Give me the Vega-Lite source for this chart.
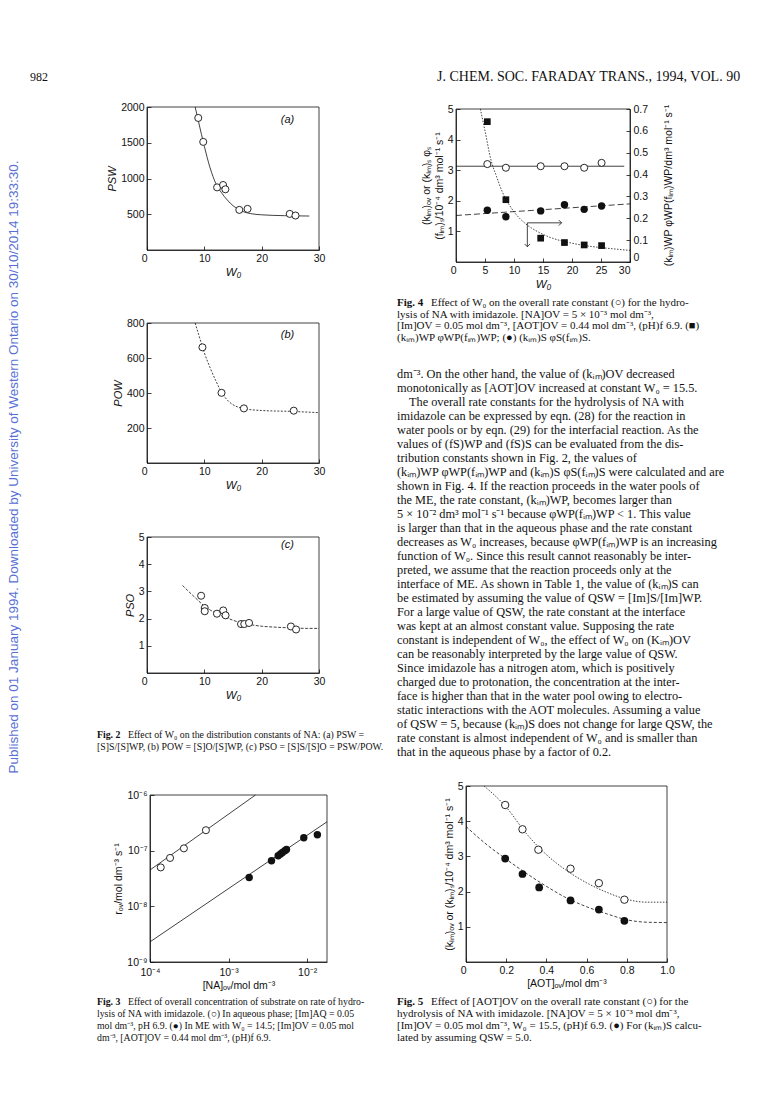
{
"$schema":"https://vega.github.io/schema/vega-lite/v6.json",
"width":772,"height":1107,"autosize":{"type":"none"},"padding":0,"background":"white",
"config":{
 "view":{"stroke":null},
 "axis":{"grid":false,"labelFlush":false,"labelOverlap":false,"labelFont":"Liberation Sans","labelFontSize":10.5,"labelColor":"#111","titleFont":"Liberation Sans","titleFontSize":10.5,"titleFontWeight":"normal","titleColor":"#111","domainColor":"#111","domainWidth":0.8,"tickColor":"#111","tickWidth":0.8,"tickSize":-4,"labelPadding":7,"titlePadding":3},
 "text":{"color":"#111"}
},
"resolve":{"scale":{"x":"independent","y":"independent"},"axis":{"x":"independent","y":"independent"}},
"layer":[
 {"data":{"values":[{"t":"Published on 01 January 1994. Downloaded by University of Western Ontario on 30/10/2014 19:33:30."}]},
  "mark":{"type":"text","angle":270,"align":"center","baseline":"middle","font":"Liberation Sans","fontSize":13.5,"color":"#5870d4"},
  "encoding":{"x":{"datum":0,"type":"quantitative","scale":{"domain":[0,1],"range":[14,24]},"axis":null},
   "y":{"datum":0,"type":"quantitative","scale":{"domain":[0,1],"range":[467,477]},"axis":null},
   "text":{"field":"t"}}},
 {"data":{"values":[{"t":"982"}]},
  "mark":{"type":"text","align":"left","baseline":"middle","font":"Liberation Serif","fontSize":12},
  "encoding":{"x":{"datum":0,"type":"quantitative","scale":{"domain":[0,1],"range":[30,60]},"axis":null},
   "y":{"datum":0,"type":"quantitative","scale":{"domain":[0,1],"range":[77,87]},"axis":null},
   "text":{"field":"t"}}},
 {"data":{"values":[{"t":"J. CHEM. SOC. FARADAY TRANS., 1994, VOL. 90"}]},
  "mark":{"type":"text","align":"left","baseline":"middle","font":"Liberation Serif","fontSize":14},
  "encoding":{"x":{"datum":0,"type":"quantitative","scale":{"domain":[0,1],"range":[437,742]},"axis":null},
   "y":{"datum":0,"type":"quantitative","scale":{"domain":[0,1],"range":[77,87]},"axis":null},
   "text":{"field":"t"}}},

 {"layer":[
  {"data":{"values":[{}]},"mark":{"type":"rect","filled":false,"color":"#111","strokeWidth":0.8},
   "encoding":{
    "x":{"datum":0,"type":"quantitative","scale":{"domain":[0,30],"range":[147,319],"nice":false,"zero":false},
      "axis":{"orient":"bottom","offset":-857,"values":[0,10,20,30],"format":"d","title":"W₀","titleFontStyle":"italic","titleFontSize":11.5,"labelAlign":{"condition":{"test":"datum.value === 0","value":"right"},"value":"center"}}},
    "x2":{"datum":30},
    "y":{"datum":0,"type":"quantitative","scale":{"domain":[0,2000],"range":[250,107],"nice":false,"zero":false},
      "axis":{"orient":"left","offset":-147,"values":[500,1000,1500,2000],"format":"d","title":"PSW","titleFontStyle":"italic","titleFontSize":11}},
    "y2":{"datum":2000}}},
  {"data":{"values":[{"w":8.4,"p":2000},{"w":9,"p":1790},{"w":10,"p":1450},{"w":11,"p":1150},{"w":12,"p":930},{"w":13,"p":800},{"w":14,"p":700},{"w":15,"p":620},{"w":16,"p":565},{"w":17,"p":530},{"w":18,"p":510},{"w":20,"p":492},{"w":24,"p":480},{"w":28.3,"p":475}]},
   "mark":{"type":"line","color":"#111","strokeWidth":0.8,"interpolate":"monotone"},
   "encoding":{"x":{"field":"w","type":"quantitative","scale":{"domain":[0,30],"range":[147,319],"nice":false,"zero":false}},
    "y":{"field":"p","type":"quantitative","scale":{"domain":[0,2000],"range":[250,107],"nice":false,"zero":false}}}},
  {"data":{"values":[{"w":8.94,"p":1847},{"w":9.81,"p":1512},{"w":12.23,"p":876},{"w":13.27,"p":909},{"w":13.67,"p":849},{"w":16.1,"p":561},{"w":17.54,"p":575},{"w":24.9,"p":505},{"w":25.9,"p":482}]},
   "mark":{"type":"point","shape":"circle","filled":true,"color":"white","stroke":"#111","strokeWidth":0.9,"size":50,"opacity":1},
   "encoding":{"x":{"field":"w","type":"quantitative","scale":{"domain":[0,30],"range":[147,319],"nice":false,"zero":false}},
    "y":{"field":"p","type":"quantitative","scale":{"domain":[0,2000],"range":[250,107],"nice":false,"zero":false}}}},
  {"data":{"values":[{}]},"mark":{"type":"text","text":"(a)","font":"Liberation Sans","fontSize":11,"fontStyle":"italic","align":"center","baseline":"middle"},
   "encoding":{"x":{"datum":24.5,"type":"quantitative","scale":{"domain":[0,30],"range":[147,319],"nice":false,"zero":false}},
    "y":{"datum":1818,"type":"quantitative","scale":{"domain":[0,2000],"range":[250,107],"nice":false,"zero":false}}}}
 ]},

 {"layer":[
  {"data":{"values":[{}]},"mark":{"type":"rect","filled":false,"color":"#111","strokeWidth":0.8},
   "encoding":{
    "x":{"datum":0,"type":"quantitative","scale":{"domain":[0,30],"range":[147,319],"nice":false,"zero":false},
      "axis":{"orient":"bottom","offset":-644,"values":[0,10,20,30],"format":"d","title":"W₀","titleFontStyle":"italic","titleFontSize":11.5,"labelAlign":{"condition":{"test":"datum.value === 0","value":"right"},"value":"center"}}},
    "x2":{"datum":30},
    "y":{"datum":0,"type":"quantitative","scale":{"domain":[0,800],"range":[463,323],"nice":false,"zero":false},
      "axis":{"orient":"left","offset":-147,"values":[200,400,600,800],"format":"d","title":"POW","titleFontStyle":"italic","titleFontSize":11}},
    "y2":{"datum":800}}},
  {"data":{"values":[{"w":8.4,"p":800},{"w":9,"p":735},{"w":10,"p":630},{"w":11,"p":545},{"w":12,"p":470},{"w":13,"p":405},{"w":14,"p":360},{"w":15,"p":333},{"w":16,"p":318},{"w":17,"p":310},{"w":20,"p":300},{"w":25,"p":295},{"w":29.8,"p":288}]},
   "mark":{"type":"line","color":"#111","strokeWidth":0.8,"strokeDash":[2,1.5],"interpolate":"monotone"},
   "encoding":{"x":{"field":"w","type":"quantitative","scale":{"domain":[0,30],"range":[147,319],"nice":false,"zero":false}},
    "y":{"field":"p","type":"quantitative","scale":{"domain":[0,800],"range":[463,323],"nice":false,"zero":false}}}},
  {"data":{"values":[{"w":9.67,"p":661},{"w":13.0,"p":401},{"w":16.9,"p":312},{"w":25.6,"p":299}]},
   "mark":{"type":"point","shape":"circle","filled":true,"color":"white","stroke":"#111","strokeWidth":0.9,"size":50,"opacity":1},
   "encoding":{"x":{"field":"w","type":"quantitative","scale":{"domain":[0,30],"range":[147,319],"nice":false,"zero":false}},
    "y":{"field":"p","type":"quantitative","scale":{"domain":[0,800],"range":[463,323],"nice":false,"zero":false}}}},
  {"data":{"values":[{}]},"mark":{"type":"text","text":"(b)","font":"Liberation Sans","fontSize":11,"fontStyle":"italic","align":"center","baseline":"middle"},
   "encoding":{"x":{"datum":24.5,"type":"quantitative","scale":{"domain":[0,30],"range":[147,319],"nice":false,"zero":false}},
    "y":{"datum":731,"type":"quantitative","scale":{"domain":[0,800],"range":[463,323],"nice":false,"zero":false}}}}
 ]},

 {"layer":[
  {"data":{"values":[{}]},"mark":{"type":"rect","filled":false,"color":"#111","strokeWidth":0.8},
   "encoding":{
    "x":{"datum":0,"type":"quantitative","scale":{"domain":[0,30],"range":[147,319],"nice":false,"zero":false},
      "axis":{"orient":"bottom","offset":-434,"values":[0,10,20,30],"format":"d","title":"W₀","titleFontStyle":"italic","titleFontSize":11.5,"labelAlign":{"condition":{"test":"datum.value === 0","value":"right"},"value":"center"}}},
    "x2":{"datum":30},
    "y":{"datum":0,"type":"quantitative","scale":{"domain":[0,5],"range":[673,537],"nice":false,"zero":false},
      "axis":{"orient":"left","offset":-147,"values":[1,2,3,4,5],"format":"d","title":"PSO","titleFontStyle":"italic","titleFontSize":11}},
    "y2":{"datum":5}}},
  {"data":{"values":[{"w":6.2,"p":3.22},{"w":7,"p":3.05},{"w":8,"p":2.85},{"w":9,"p":2.65},{"w":10,"p":2.46},{"w":11,"p":2.32},{"w":12,"p":2.2},{"w":13,"p":2.1},{"w":14,"p":2.02},{"w":15,"p":1.94},{"w":16,"p":1.87},{"w":17,"p":1.82},{"w":18,"p":1.78},{"w":20,"p":1.72},{"w":22,"p":1.69},{"w":25,"p":1.66},{"w":28,"p":1.64},{"w":30,"p":1.64}]},
   "mark":{"type":"line","color":"#111","strokeWidth":0.8,"strokeDash":[3,1.5],"interpolate":"monotone"},
   "encoding":{"x":{"field":"w","type":"quantitative","scale":{"domain":[0,30],"range":[147,319],"nice":false,"zero":false}},
    "y":{"field":"p","type":"quantitative","scale":{"domain":[0,5],"range":[673,537],"nice":false,"zero":false}}}},
  {"data":{"values":[{"w":9.44,"p":2.84},{"w":10.07,"p":2.39},{"w":10.07,"p":2.27},{"w":12.2,"p":2.18},{"w":13.3,"p":2.3},{"w":13.7,"p":2.12},{"w":16.4,"p":1.8},{"w":16.97,"p":1.8},{"w":17.8,"p":1.84},{"w":25.1,"p":1.71},{"w":26.0,"p":1.6}]},
   "mark":{"type":"point","shape":"circle","filled":true,"color":"white","stroke":"#111","strokeWidth":0.9,"size":50,"opacity":1},
   "encoding":{"x":{"field":"w","type":"quantitative","scale":{"domain":[0,30],"range":[147,319],"nice":false,"zero":false}},
    "y":{"field":"p","type":"quantitative","scale":{"domain":[0,5],"range":[673,537],"nice":false,"zero":false}}}},
  {"data":{"values":[{}]},"mark":{"type":"text","text":"(c)","font":"Liberation Sans","fontSize":11,"fontStyle":"italic","align":"center","baseline":"middle"},
   "encoding":{"x":{"datum":24.5,"type":"quantitative","scale":{"domain":[0,30],"range":[147,319],"nice":false,"zero":false}},
    "y":{"datum":4.7,"type":"quantitative","scale":{"domain":[0,5],"range":[673,537],"nice":false,"zero":false}}}}
 ]},

 {"encoding":{"x":{"datum":0,"type":"quantitative","scale":{"domain":[0,1],"range":[97,345]},"axis":null},
   "y":{"field":"line","type":"quantitative","scale":{"domain":[0,1],"range":[735,747]},"axis":null},
   "text":{"field":"t"}},
  "layer":[
   {"data":{"values":[{"line":0,"t":"Fig. 2"}]},"mark":{"type":"text","align":"left","baseline":"middle","font":"Liberation Serif","fontSize":9.8,"fontWeight":"bold"}},
   {"data":{"values":[{"line":0,"t":"Effect of W₀ on the distribution constants of NA: (a) PSW ="}]},"mark":{"type":"text","align":"left","baseline":"middle","font":"Liberation Serif","fontSize":9.8,"dx":31}},
   {"data":{"values":[{"line":1,"t":"[S]S/[S]WP, (b) POW = [S]O/[S]WP, (c) PSO = [S]S/[S]O = PSW/POW."}]},"mark":{"type":"text","align":"left","baseline":"middle","font":"Liberation Serif","fontSize":9.8}}
 ]},

 {"layer":[
  {"data":{"values":[{}]},"mark":{"type":"rect","filled":false,"color":"#111","strokeWidth":0.8},
   "encoding":{
    "x":{"datum":0.0001,"type":"quantitative","scale":{"type":"log","domain":[0.0001,0.0179],"range":[150,327],"nice":false,"zero":false},
      "axis":{"orient":"bottom","offset":-145,"values":[0.0001,0.001,0.01],"labelPadding":9,"labelExpr":"datum.value < 0.0005 ? '10⁻⁴' : datum.value < 0.005 ? '10⁻³' : '10⁻²'","title":"[NA]ₒᵥ/mol dm⁻³"}},
    "x2":{"datum":0.0179},
    "y":{"datum":1e-9,"type":"quantitative","scale":{"type":"log","domain":[1e-9,1e-6],"range":[962,795],"nice":false,"zero":false},
      "axis":{"orient":"left","offset":-150,"values":[1e-9,1e-8,1e-7,1e-6],"labelExpr":"datum.value < 5e-9 ? '10⁻⁹' : datum.value < 5e-8 ? '10⁻⁸' : datum.value < 5e-7 ? '10⁻⁷' : '10⁻⁶'","title":"rₒᵥ/mol dm⁻³ s⁻¹"}},
    "y2":{"datum":1e-6}}},
  {"data":{"values":[{"c":0.0001,"r":4.5e-8,"s":"aq"},{"c":0.0022,"r":1e-6,"s":"aq"},{"c":0.0001,"r":2.3e-9,"s":"me"},{"c":0.0179,"r":3.3e-7,"s":"me"}]},
   "mark":{"type":"line","color":"#111","strokeWidth":0.8},
   "encoding":{"x":{"field":"c","type":"quantitative","scale":{"type":"log","domain":[0.0001,0.0179],"range":[150,327],"nice":false,"zero":false}},
    "y":{"field":"r","type":"quantitative","scale":{"type":"log","domain":[1e-9,1e-6],"range":[962,795],"nice":false,"zero":false}},
    "detail":{"field":"s"}}},
  {"data":{"values":[{"c":0.000137,"r":5.0e-8},{"c":0.00018,"r":7.4e-8},{"c":0.00027,"r":1.1e-7},{"c":0.000515,"r":2.33e-7}]},
   "mark":{"type":"point","shape":"circle","filled":true,"color":"white","stroke":"#111","strokeWidth":0.9,"size":50,"opacity":1},
   "encoding":{"x":{"field":"c","type":"quantitative","scale":{"type":"log","domain":[0.0001,0.0179],"range":[150,327],"nice":false,"zero":false}},
    "y":{"field":"r","type":"quantitative","scale":{"type":"log","domain":[1e-9,1e-6],"range":[962,795],"nice":false,"zero":false}}}},
  {"data":{"values":[{"c":0.00183,"r":3.3e-8},{"c":0.00352,"r":6.6e-8},{"c":0.00428,"r":8.1e-8},{"c":0.00458,"r":8.7e-8},{"c":0.00485,"r":9.3e-8},{"c":0.0052,"r":1.0e-7},{"c":0.00546,"r":1.05e-7},{"c":0.00907,"r":1.71e-7},{"c":0.0135,"r":1.93e-7}]},
   "mark":{"type":"point","shape":"circle","filled":true,"color":"#111","size":55,"opacity":1},
   "encoding":{"x":{"field":"c","type":"quantitative","scale":{"type":"log","domain":[0.0001,0.0179],"range":[150,327],"nice":false,"zero":false}},
    "y":{"field":"r","type":"quantitative","scale":{"type":"log","domain":[1e-9,1e-6],"range":[962,795],"nice":false,"zero":false}}}}
 ]},

 {"encoding":{"x":{"datum":0,"type":"quantitative","scale":{"domain":[0,1],"range":[97,345]},"axis":null},
   "y":{"field":"line","type":"quantitative","scale":{"domain":[0,3],"range":[1002,1038]},"axis":null},
   "text":{"field":"t"}},
  "layer":[
   {"data":{"values":[{"line":0,"t":"Fig. 3"}]},"mark":{"type":"text","align":"left","baseline":"middle","font":"Liberation Serif","fontSize":9.8,"fontWeight":"bold"}},
   {"data":{"values":[{"line":0,"t":"Effect of overall concentration of substrate on rate of hydro-"}]},"mark":{"type":"text","align":"left","baseline":"middle","font":"Liberation Serif","fontSize":9.8,"dx":31}},
   {"data":{"values":[
     {"line":1,"t":"lysis of NA with imidazole. (○) In aqueous phase; [Im]AQ = 0.05"},
     {"line":2,"t":"mol dm⁻³, pH 6.9. (●) In ME with W₀ = 14.5; [Im]OV = 0.05 mol"},
     {"line":3,"t":"dm⁻³, [AOT]OV = 0.44 mol dm⁻³, (pH)f 6.9."}]},
    "mark":{"type":"text","align":"left","baseline":"middle","font":"Liberation Serif","fontSize":9.8}}
 ]},

 {"resolve":{"scale":{"y":"independent"},"axis":{"y":"independent"}},
  "layer":[
   {"layer":[
    {"data":{"values":[{}]},"mark":{"type":"rect","filled":false,"color":"#111","strokeWidth":0.8},
     "encoding":{
      "x":{"datum":0,"type":"quantitative","scale":{"domain":[0,30],"range":[456,630],"nice":false,"zero":false},
        "axis":{"orient":"bottom","offset":-845,"values":[0,5,10,15,20,25,30],"format":"d","title":"W₀","titleFontStyle":"italic","titleFontSize":11.5,"labelAlign":{"condition":{"test":"datum.value === 0 || datum.value === 30","value":"right"},"value":"center"}}},
      "x2":{"datum":30},
      "y":{"datum":0,"type":"quantitative","scale":{"domain":[0,5],"range":[262,109],"nice":false,"zero":false},
        "axis":{"orient":"left","offset":-456,"values":[1,2,3,4,5],"format":"d","title":["(kᵢₘ)ₒᵥ or (kᵢₘ)ₛ φₛ","(fᵢₘ)ₛ/10⁻⁴ dm³ mol⁻¹ s⁻¹"]}},
      "y2":{"datum":5}}},
    {"data":{"values":[{"w":0,"k":3.13},{"w":29,"k":3.13}]},
     "mark":{"type":"line","color":"#111","strokeWidth":0.8},
     "encoding":{"x":{"field":"w","type":"quantitative","scale":{"domain":[0,30],"range":[456,630],"nice":false,"zero":false}},
      "y":{"field":"k","type":"quantitative","scale":{"domain":[0,5],"range":[262,109],"nice":false,"zero":false}}}},
    {"data":{"values":[{"w":0,"k":1.52},{"w":30,"k":1.9}]},
     "mark":{"type":"line","color":"#111","strokeWidth":0.8,"strokeDash":[6,3]},
     "encoding":{"x":{"field":"w","type":"quantitative","scale":{"domain":[0,30],"range":[456,630],"nice":false,"zero":false}},
      "y":{"field":"k","type":"quantitative","scale":{"domain":[0,5],"range":[262,109],"nice":false,"zero":false}}}},
    {"data":{"values":[{"w":5.4,"k":3.2},{"w":8.6,"k":3.08},{"w":14.6,"k":3.13},{"w":18.7,"k":3.13},{"w":22.1,"k":3.08},{"w":25.1,"k":3.24}]},
     "mark":{"type":"point","shape":"circle","filled":true,"color":"white","stroke":"#111","strokeWidth":0.9,"size":50,"opacity":1},
     "encoding":{"x":{"field":"w","type":"quantitative","scale":{"domain":[0,30],"range":[456,630],"nice":false,"zero":false}},
      "y":{"field":"k","type":"quantitative","scale":{"domain":[0,5],"range":[262,109],"nice":false,"zero":false}}}},
    {"data":{"values":[{"w":5.4,"k":1.69},{"w":8.6,"k":1.48},{"w":14.6,"k":1.67},{"w":18.7,"k":1.87},{"w":22.1,"k":1.72},{"w":25.1,"k":1.83}]},
     "mark":{"type":"point","shape":"circle","filled":true,"color":"#111","size":55,"opacity":1},
     "encoding":{"x":{"field":"w","type":"quantitative","scale":{"domain":[0,30],"range":[456,630],"nice":false,"zero":false}},
      "y":{"field":"k","type":"quantitative","scale":{"domain":[0,5],"range":[262,109],"nice":false,"zero":false}}}},
    {"data":{"values":[{}]},"mark":{"type":"rule","color":"#111","strokeWidth":0.8},
     "encoding":{"x":{"datum":12.3,"type":"quantitative","scale":{"domain":[0,30],"range":[456,630],"nice":false,"zero":false}},
      "x2":{"datum":18.2},
      "y":{"datum":1.28,"type":"quantitative","scale":{"domain":[0,5],"range":[262,109],"nice":false,"zero":false}}}},
    {"data":{"values":[{}]},"mark":{"type":"rule","color":"#111","strokeWidth":0.8},
     "encoding":{"x":{"datum":12.3,"type":"quantitative","scale":{"domain":[0,30],"range":[456,630],"nice":false,"zero":false}},
      "y":{"datum":1.28,"type":"quantitative","scale":{"domain":[0,5],"range":[262,109],"nice":false,"zero":false}},
      "y2":{"datum":0.5}}},
    {"data":{"values":[{}]},"mark":{"type":"point","shape":"M-1,-1L0,0L-1,1","filled":false,"color":"#111","strokeWidth":0.8,"size":30,"opacity":1},
     "encoding":{"x":{"datum":18.2,"type":"quantitative","scale":{"domain":[0,30],"range":[456,630],"nice":false,"zero":false}},
      "y":{"datum":1.28,"type":"quantitative","scale":{"domain":[0,5],"range":[262,109],"nice":false,"zero":false}}}},
    {"data":{"values":[{}]},"mark":{"type":"point","shape":"M-1,-1L0,0L1,-1","filled":false,"color":"#111","strokeWidth":0.8,"size":30,"opacity":1},
     "encoding":{"x":{"datum":12.3,"type":"quantitative","scale":{"domain":[0,30],"range":[456,630],"nice":false,"zero":false}},
      "y":{"datum":0.5,"type":"quantitative","scale":{"domain":[0,5],"range":[262,109],"nice":false,"zero":false}}}}
   ]},
   {"layer":[
    {"data":{"values":[{"w":4.2,"q":0.7},{"w":5,"q":0.6},{"w":6,"q":0.47},{"w":7,"q":0.39},{"w":8,"q":0.32},{"w":10,"q":0.23},{"w":12,"q":0.175},{"w":14,"q":0.14},{"w":16,"q":0.115},{"w":18,"q":0.098},{"w":20,"q":0.086},{"w":22,"q":0.076},{"w":25,"q":0.066},{"w":28,"q":0.058},{"w":30,"q":0.053}]},
     "mark":{"type":"line","color":"#111","strokeWidth":0.8,"strokeDash":[1.5,1.5],"interpolate":"monotone"},
     "encoding":{"x":{"field":"w","type":"quantitative","scale":{"domain":[0,30],"range":[456,630],"nice":false,"zero":false}},
      "y":{"field":"q","type":"quantitative","scale":{"domain":[0,0.7],"range":[262,109],"nice":false,"zero":false},
       "axis":{"orient":"right","offset":-142,"values":[0,0.1,0.2,0.3,0.4,0.5,0.6,0.7],"labelExpr":"datum.value == 0 ? '0' : format(datum.value, '.1f')","labelBaseline":{"condition":{"test":"datum.value === 0","value":"bottom"},"value":"middle"},"title":"(kᵢₘ)WP φWP(fᵢₘ)WP/dm³ mol⁻¹ s⁻¹","titleAngle":270,"titleX":38,"titleY":185,"titleAlign":"center","titleBaseline":"middle"}}}},
    {"data":{"values":[{"w":5.4,"q":0.642},{"w":8.6,"q":0.285},{"w":14.6,"q":0.109},{"w":18.7,"q":0.089},{"w":22.1,"q":0.078},{"w":25.1,"q":0.075}]},
     "mark":{"type":"point","shape":"square","filled":true,"color":"#111","size":45,"opacity":1},
     "encoding":{"x":{"field":"w","type":"quantitative","scale":{"domain":[0,30],"range":[456,630],"nice":false,"zero":false}},
      "y":{"field":"q","type":"quantitative","scale":{"domain":[0,0.7],"range":[262,109],"nice":false,"zero":false}}}}
   ]}
 ]},

 {"encoding":{"x":{"datum":0,"type":"quantitative","scale":{"domain":[0,1],"range":[397,715]},"axis":null},
   "y":{"field":"line","type":"quantitative","scale":{"domain":[0,3],"range":[303,338]},"axis":null},
   "text":{"field":"t"}},
  "layer":[
   {"data":{"values":[{"line":0,"t":"Fig. 4"}]},"mark":{"type":"text","align":"left","baseline":"middle","font":"Liberation Serif","fontSize":11,"fontWeight":"bold"}},
   {"data":{"values":[{"line":0,"t":"Effect of W₀ on the overall rate constant (○) for the hydro-"}]},"mark":{"type":"text","align":"left","baseline":"middle","font":"Liberation Serif","fontSize":11,"dx":34}},
   {"data":{"values":[
     {"line":1,"t":"lysis of NA with imidazole. [NA]OV = 5 × 10⁻³ mol dm⁻³,"},
     {"line":2,"t":"[Im]OV = 0.05 mol dm⁻³, [AOT]OV = 0.44 mol dm⁻³, (pH)f 6.9. (■)"},
     {"line":3,"t":"(kᵢₘ)WP φWP(fᵢₘ)WP; (●) (kᵢₘ)S φS(fᵢₘ)S."}]},
    "mark":{"type":"text","align":"left","baseline":"middle","font":"Liberation Serif","fontSize":11}}
 ]},

 {"encoding":{"x":{"datum":0,"type":"quantitative","scale":{"domain":[0,1],"range":[397,715]},"axis":null},
   "y":{"field":"line","type":"quantitative","scale":{"domain":[0,27],"range":[374,752]},"axis":null},
   "text":{"field":"t"}},
  "layer":[
   {"data":{"values":[{"line":2,"t":"The overall rate constants for the hydrolysis of NA with"}]},
    "mark":{"type":"text","align":"left","baseline":"middle","font":"Liberation Serif","fontSize":12.3,"dx":12}},
   {"data":{"values":[
   {"line":0,"t":"dm⁻³. On the other hand, the value of (kᵢₘ)OV decreased"},
   {"line":1,"t":"monotonically as [AOT]OV increased at constant W₀ = 15.5."},
   {"line":3,"t":"imidazole can be expressed by eqn. (28) for the reaction in"},
   {"line":4,"t":"water pools or by eqn. (29) for the interfacial reaction. As the"},
   {"line":5,"t":"values of (fS)WP and (fS)S can be evaluated from the dis-"},
   {"line":6,"t":"tribution constants shown in Fig. 2, the values of"},
   {"line":7,"t":"(kᵢₘ)WP φWP(fᵢₘ)WP and (kᵢₘ)S φS(fᵢₘ)S were calculated and are"},
   {"line":8,"t":"shown in Fig. 4. If the reaction proceeds in the water pools of"},
   {"line":9,"t":"the ME, the rate constant, (kᵢₘ)WP, becomes larger than"},
   {"line":10,"t":"5 × 10⁻² dm³ mol⁻¹ s⁻¹ because φWP(fᵢₘ)WP < 1. This value"},
   {"line":11,"t":"is larger than that in the aqueous phase and the rate constant"},
   {"line":12,"t":"decreases as W₀ increases, because φWP(fᵢₘ)WP is an increasing"},
   {"line":13,"t":"function of W₀. Since this result cannot reasonably be inter-"},
   {"line":14,"t":"preted, we assume that the reaction proceeds only at the"},
   {"line":15,"t":"interface of ME. As shown in Table 1, the value of (kᵢₘ)S can"},
   {"line":16,"t":"be estimated by assuming the value of QSW = [Im]S/[Im]WP."},
   {"line":17,"t":"For a large value of QSW, the rate constant at the interface"},
   {"line":18,"t":"was kept at an almost constant value. Supposing the rate"},
   {"line":19,"t":"constant is independent of W₀, the effect of W₀ on (Kᵢₘ)OV"},
   {"line":20,"t":"can be reasonably interpreted by the large value of QSW."},
   {"line":21,"t":"Since imidazole has a nitrogen atom, which is positively"},
   {"line":22,"t":"charged due to protonation, the concentration at the inter-"},
   {"line":23,"t":"face is higher than that in the water pool owing to electro-"},
   {"line":24,"t":"static interactions with the AOT molecules. Assuming a value"},
   {"line":25,"t":"of QSW = 5, because (kᵢₘ)S does not change for large QSW, the"},
   {"line":26,"t":"rate constant is almost independent of W₀ and is smaller than"},
   {"line":27,"t":"that in the aqueous phase by a factor of 0.2."}]},
    "mark":{"type":"text","align":"left","baseline":"middle","font":"Liberation Serif","fontSize":12.3}}
 ]},

 {"layer":[
  {"data":{"values":[{}]},"mark":{"type":"rect","filled":false,"color":"#111","strokeWidth":0.8},
   "encoding":{
    "x":{"datum":0,"type":"quantitative","scale":{"domain":[0,1],"range":[466,667],"nice":false,"zero":false},
      "axis":{"orient":"bottom","offset":-145,"values":[0,0.2,0.4,0.6,0.8,1.0],"labelExpr":"datum.value == 0 ? '0' : format(datum.value, '.1f')","title":"[AOT]ₒᵥ/mol dm⁻³","labelAlign":{"condition":{"test":"datum.value === 0","value":"right"},"value":"center"}}},
    "x2":{"datum":1},
    "y":{"datum":0,"type":"quantitative","scale":{"domain":[0,5],"range":[962,786],"nice":false,"zero":false},
      "axis":{"orient":"left","offset":-466,"values":[1,2,3,4,5],"format":"d","title":"(kᵢₘ)ₒᵥ or (kᵢₘ)ₛ/10⁻⁴ dm³ mol⁻¹ s⁻¹"}},
    "y2":{"datum":5}}},
  {"data":{"values":[{"a":0.09,"k":5.0},{"a":0.2,"k":4.4},{"a":0.3,"k":3.65},{"a":0.4,"k":3.05},{"a":0.5,"k":2.6},{"a":0.6,"k":2.25},{"a":0.7,"k":1.98},{"a":0.8,"k":1.78},{"a":0.9,"k":1.7},{"a":1.0,"k":1.7}]},
   "mark":{"type":"line","color":"#111","strokeWidth":0.8,"strokeDash":[1.5,1.5],"interpolate":"monotone"},
   "encoding":{"x":{"field":"a","type":"quantitative","scale":{"domain":[0,1],"range":[466,667],"nice":false,"zero":false}},
    "y":{"field":"k","type":"quantitative","scale":{"domain":[0,5],"range":[962,786],"nice":false,"zero":false}}}},
  {"data":{"values":[{"a":0,"k":3.85},{"a":0.1,"k":3.35},{"a":0.2,"k":2.92},{"a":0.3,"k":2.52},{"a":0.4,"k":2.15},{"a":0.5,"k":1.82},{"a":0.6,"k":1.57},{"a":0.7,"k":1.37},{"a":0.8,"k":1.2},{"a":0.9,"k":1.13},{"a":1.0,"k":1.12}]},
   "mark":{"type":"line","color":"#111","strokeWidth":0.8,"strokeDash":[3,2],"interpolate":"monotone"},
   "encoding":{"x":{"field":"a","type":"quantitative","scale":{"domain":[0,1],"range":[466,667],"nice":false,"zero":false}},
    "y":{"field":"k","type":"quantitative","scale":{"domain":[0,5],"range":[962,786],"nice":false,"zero":false}}}},
  {"data":{"values":[{"a":0.195,"k":4.46},{"a":0.281,"k":3.77},{"a":0.36,"k":3.19},{"a":0.52,"k":2.65},{"a":0.661,"k":2.24},{"a":0.788,"k":1.77}]},
   "mark":{"type":"point","shape":"circle","filled":true,"color":"white","stroke":"#111","strokeWidth":0.9,"size":55,"opacity":1},
   "encoding":{"x":{"field":"a","type":"quantitative","scale":{"domain":[0,1],"range":[466,667],"nice":false,"zero":false}},
    "y":{"field":"k","type":"quantitative","scale":{"domain":[0,5],"range":[962,786],"nice":false,"zero":false}}}},
  {"data":{"values":[{"a":0.195,"k":2.94},{"a":0.281,"k":2.5},{"a":0.364,"k":2.12},{"a":0.52,"k":1.75},{"a":0.661,"k":1.49},{"a":0.788,"k":1.17}]},
   "mark":{"type":"point","shape":"circle","filled":true,"color":"#111","size":60,"opacity":1},
   "encoding":{"x":{"field":"a","type":"quantitative","scale":{"domain":[0,1],"range":[466,667],"nice":false,"zero":false}},
    "y":{"field":"k","type":"quantitative","scale":{"domain":[0,5],"range":[962,786],"nice":false,"zero":false}}}}
 ]},

 {"encoding":{"x":{"datum":0,"type":"quantitative","scale":{"domain":[0,1],"range":[397,715]},"axis":null},
   "y":{"field":"line","type":"quantitative","scale":{"domain":[0,3],"range":[1002,1038]},"axis":null},
   "text":{"field":"t"}},
  "layer":[
   {"data":{"values":[{"line":0,"t":"Fig. 5"}]},"mark":{"type":"text","align":"left","baseline":"middle","font":"Liberation Serif","fontSize":11,"fontWeight":"bold"}},
   {"data":{"values":[{"line":0,"t":"Effect of [AOT]OV on the overall rate constant (○) for the"}]},"mark":{"type":"text","align":"left","baseline":"middle","font":"Liberation Serif","fontSize":11,"dx":34}},
   {"data":{"values":[
     {"line":1,"t":"hydrolysis of NA with imidazole. [NA]OV = 5 × 10⁻³ mol dm⁻³,"},
     {"line":2,"t":"[Im]OV = 0.05 mol dm⁻³, W₀ = 15.5, (pH)f 6.9. (●) For (kᵢₘ)S calcu-"},
     {"line":3,"t":"lated by assuming QSW = 5.0."}]},
    "mark":{"type":"text","align":"left","baseline":"middle","font":"Liberation Serif","fontSize":11}}
 ]}
]
}
